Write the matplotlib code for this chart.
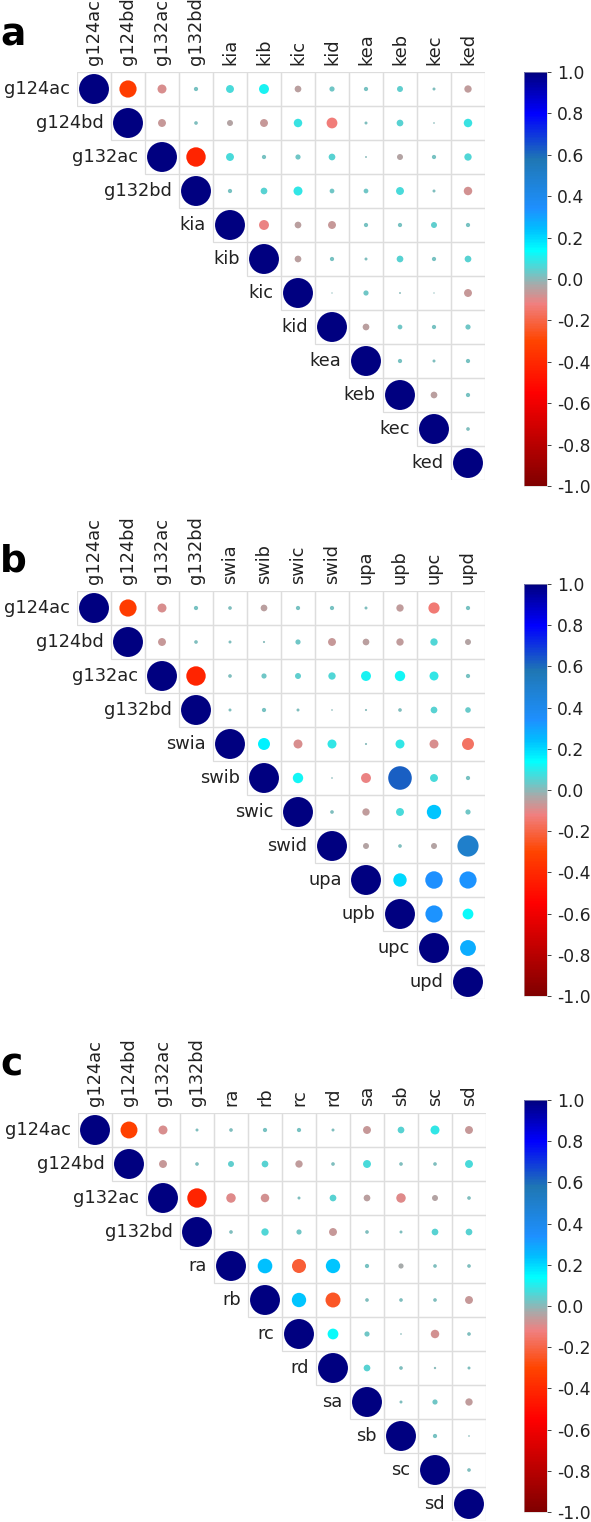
import numpy as np
import matplotlib
matplotlib.use('Agg')
import matplotlib.pyplot as plt
from matplotlib.colors import LinearSegmentedColormap, Normalize
from matplotlib.cm import ScalarMappable
from matplotlib.patches import Rectangle

plt.rcParams['axes.unicode_minus'] = False
plt.rcParams['font.family'] = 'DejaVu Sans'

# Variaveis de cada painel
grupo = ['g124ac', 'g124bd', 'g132ac', 'g132bd']
nomes_a = grupo + ['kia', 'kib', 'kic', 'kid', 'kea', 'keb', 'kec', 'ked']
nomes_b = grupo + ['swia', 'swib', 'swic', 'swid', 'upa', 'upb', 'upc', 'upd']
nomes_c = grupo + ['ra', 'rb', 'rc', 'rd', 'sa', 'sb', 'sc', 'sd']

# Triangulo superior (sem a diagonal), linha por linha
tri_a = [
    [-0.33, -0.09, 0.02, 0.07, 0.11, -0.05, 0.03, 0.02, 0.04, 0.01, -0.06],
    [-0.07, 0.015, -0.04, -0.07, 0.08, -0.13, 0.01, 0.05, 0.003, 0.08],
    [-0.42, 0.07, 0.02, 0.03, 0.05, 0.004, -0.04, 0.02, 0.06],
    [0.02, 0.05, 0.09, 0.025, 0.025, 0.07, 0.01, -0.08],
    [-0.11, -0.05, -0.07, 0.02, 0.02, 0.04, 0.02],
    [-0.05, 0.02, 0.01, 0.05, 0.02, 0.05],
    [0.002, 0.03, 0.004, 0.002, -0.07],
    [-0.05, 0.025, 0.02, 0.03],
    [0.02, 0.01, 0.02],
    [-0.05, 0.02],
    [0.015],
]
tri_b = [
    [-0.33, -0.09, 0.02, 0.015, -0.05, 0.02, 0.02, 0.01, -0.06, -0.14, 0.02],
    [-0.07, 0.015, 0.01, 0.005, 0.03, -0.07, -0.05, -0.06, 0.06, -0.04],
    [-0.42, 0.015, 0.03, 0.04, 0.06, 0.11, 0.12, 0.09, 0.02],
    [0.01, 0.02, 0.01, 0.003, 0.005, 0.015, 0.05, 0.035],
    [0.16, -0.09, 0.09, 0.005, 0.09, -0.09, -0.16],
    [0.12, 0.003, -0.11, 0.62, 0.07, 0.02],
    [0.015, -0.06, 0.07, 0.23, 0.03],
    [-0.04, 0.015, -0.04, 0.5],
    [0.2, 0.34, 0.33],
    [0.33, 0.13],
    [0.28],
]
tri_c = [
    [-0.32, -0.09, 0.01, 0.015, 0.02, 0.02, 0.01, -0.07, 0.05, 0.09, -0.07],
    [-0.07, 0.015, 0.04, 0.05, -0.06, 0.015, 0.07, 0.015, 0.015, 0.07],
    [-0.42, -0.1, -0.08, 0.01, 0.05, -0.05, -0.1, -0.04, 0.015],
    [0.015, 0.06, 0.03, -0.07, 0.015, 0.01, 0.05, 0.05],
    [0.24, -0.22, 0.23, 0.02, -0.03, 0.015, 0.015],
    [0.23, -0.25, 0.015, 0.015, 0.015, -0.07],
    [0.13, 0.03, 0.003, -0.08, 0.015],
    [0.05, 0.015, 0.006, 0.01],
    [0.01, 0.03, -0.06],
    [0.02, 0.003],
    [0.015],
]

# Mapa de cores
nos = [(-1.0, '#800000'), (-0.55, '#FF0000'), (-0.3, '#FF4500'),
       (-0.12, '#F08080'), (-0.03, '#A9A9A9'), (0.14, '#00FFFF'),
       (0.24, '#00BFFF'), (0.34, '#1E90FF'), (0.58, '#1F77B4'),
       (0.8, '#0000FF'), (1.0, '#000080')]
cmap = LinearSegmentedColormap.from_list(
    'corr', [((v + 1) / 2, c) for v, c in nos])
norm = Normalize(-1, 1)

W, H = 591, 1522
fig = plt.figure(figsize=(W / 100, H / 100), dpi=100)

celula = 34.0  # px
cel_pt = celula * 72 / 100


def matriz(tri):
    n = len(tri) + 1
    m = np.eye(n)
    for i, linha in enumerate(tri):
        for k, v in enumerate(linha):
            m[i, i + 1 + k] = v
    return m


def painel(nomes, tri, x0, y0, cb_y0, cb_alt, letra, letra_y):
    n = len(nomes)
    m = matriz(tri)
    ax = fig.add_axes([x0 / W, 1 - (y0 + n * celula) / H,
                       n * celula / W, n * celula / H])
    ax.set_xlim(-0.5, n - 0.5)
    ax.set_ylim(n - 0.5, -0.5)
    for s in ax.spines.values():
        s.set_visible(False)

    xs, ys, vs = [], [], []
    for i in range(n):
        for j in range(i, n):
            ax.add_patch(Rectangle((j - 0.5, i - 0.5), 1, 1, facecolor='none',
                                   edgecolor='#DDDDDD', lw=0.9, zorder=1))
            xs.append(j)
            ys.append(i)
            vs.append(m[i, j])
    vs = np.array(vs)
    ax.scatter(xs, ys, s=(0.88 * cel_pt) ** 2 * np.abs(vs), c=vs,
               cmap=cmap, norm=norm, linewidths=0, zorder=2)

    ax.set_xticks(range(n))
    ax.set_xticklabels(nomes, rotation=90, fontsize=12.8, color='#222222')
    ax.set_yticks([])
    ax.tick_params(top=True, labeltop=True, bottom=False, labelbottom=False,
                   length=0, pad=5)
    for i, nome in enumerate(nomes):
        ax.text(i - 0.5 - 0.22, i, nome, ha='right', va='center',
                fontsize=12.8, color='#222222')

    cax = fig.add_axes([524 / W, 1 - (cb_y0 + cb_alt) / H,
                        23 / W, cb_alt / H])
    cb = fig.colorbar(ScalarMappable(norm=norm, cmap=cmap), cax=cax,
                      ticks=np.linspace(-1, 1, 11), format='%.1f')
    cb.outline.set_linewidth(0.4)
    cb.outline.set_edgecolor('#CCCCCC')
    cax.tick_params(labelsize=12.3, length=3, width=0.6, pad=4,
                    colors='#222222')

    fig.text(0.0, 1 - letra_y / H, letra, fontsize=27, fontweight='bold',
             va='baseline', ha='left')


painel(nomes_a, tri_a, 77, 72, 72, 414, 'a', 45)
painel(nomes_b, tri_b, 77, 591, 584, 412, 'b', 572)
painel(nomes_c, tri_c, 78, 1113, 1100, 412, 'c', 1075)

fig.savefig('out.png', dpi=100, facecolor='white')
